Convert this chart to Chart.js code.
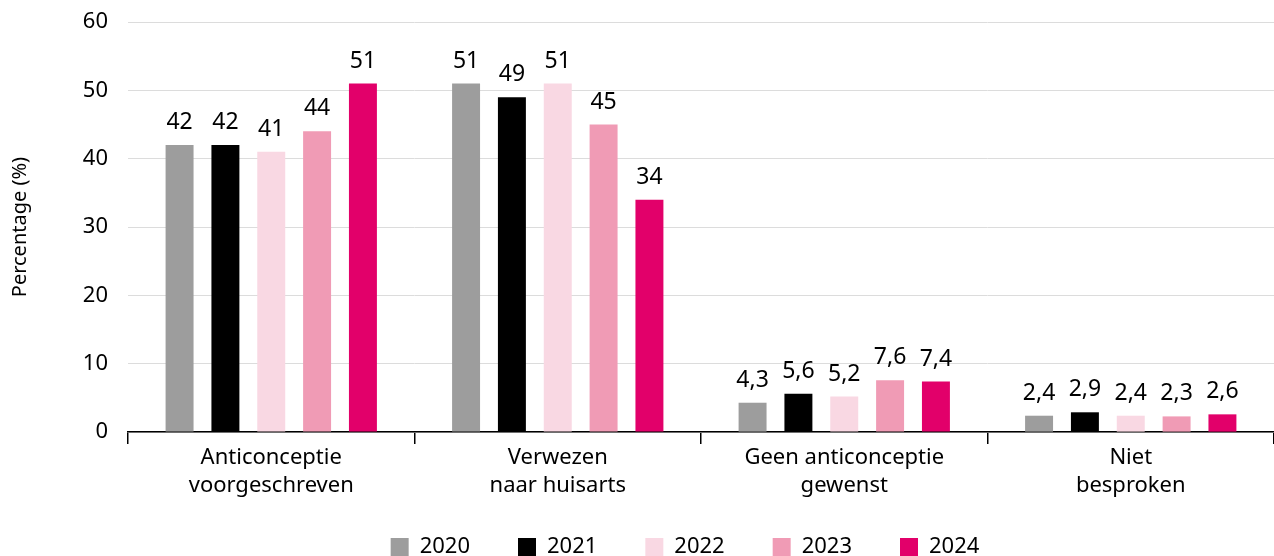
<!DOCTYPE html>
<html>
<head>
<meta charset="utf-8">
<script src="https://cdn.jsdelivr.net/npm/chart.js@4/dist/chart.umd.min.js"></script>
<style>
  html, body { margin: 0; padding: 0; background: #fff; }
  #wrap { width: 1274px; height: 556px; }
</style>
</head>
<body>
<div id="wrap"><canvas id="chart"></canvas></div>
<script>
var categories = [
  ["Anticonceptie", "voorgeschreven"],
  ["Verwezen", "naar huisarts"],
  ["Geen anticonceptie", "gewenst"],
  ["Niet", "besproken"]
];
var years = ["2020", "2021", "2022", "2023", "2024"];
var values2020 = [42, 51, 4.3, 2.4];
var values2021 = [42, 49, 5.6, 2.9];
var values2022 = [41, 51, 5.2, 2.4];
var values2023 = [44, 45, 7.6, 2.3];
var values2024 = [51, 34, 7.4, 2.6];
var colors = ["#9d9d9d", "#000000", "#f9d8e3", "#f09bb5", "#e2006a"];

var allValues = [values2020, values2021, values2022, values2023, values2024];
var fontFamily = "'Noto Sans', 'Open Sans', sans-serif";

// draws the value above each bar, comma as decimal sign
var valueLabels = {
  id: "valueLabels",
  afterDatasetsDraw: function(chart) {
    var ctx = chart.ctx;
    ctx.save();
    ctx.font = "23px " + fontFamily;
    ctx.fillStyle = "#000";
    ctx.textAlign = "center";
    ctx.textBaseline = "alphabetic";
    chart.data.datasets.forEach(function(ds, i) {
      chart.getDatasetMeta(i).data.forEach(function(bar, j) {
        var txt = String(ds.data[j]).replace(".", ",");
        ctx.fillText(txt, bar.x, bar.y - 16);
      });
    });
    ctx.restore();
  }
};

// legend sits a bit higher and more to the left than chart.js puts it
var legendNudge = {
  id: "legendNudge",
  afterLayout: function(chart) {
    var lg = chart.legend;
    lg.top -= 12; lg.bottom -= 12;
    lg.left -= 16; lg.right -= 16;
  }
};

var datasets = [];
for (var i = 0; i < years.length; i++) {
  datasets.push({
    label: years[i],
    data: allValues[i],
    backgroundColor: colors[i],
    categoryPercentage: 0.8,
    barPercentage: 0.61
  });
}

Chart.defaults.font.family = fontFamily;
Chart.defaults.color = "#000";

new Chart(document.getElementById("chart").getContext("2d"), {
  type: "bar",
  data: { labels: categories, datasets: datasets },
  plugins: [valueLabels, legendNudge],
  options: {
    responsive: true,
    maintainAspectRatio: false,
    animation: false,
    layout: { padding: { top: 22, right: 0, left: 0, bottom: -24 } },
    plugins: {
      legend: {
        position: "bottom",
        fullSize: false,
        labels: {
          boxWidth: 18,
          boxHeight: 18,
          padding: 48,
          font: { size: 22 },
          color: "#000"
        }
      },
      tooltip: { enabled: false }
    },
    scales: {
      x: {
        border: { color: "#000", width: 1.5 },
        grid: {
          offset: true,
          drawOnChartArea: false,
          drawTicks: true,
          tickLength: 12,
          color: "#000",
          lineWidth: 1.5
        },
        ticks: { font: { size: 22, lineHeight: 1.27 }, color: "#000", padding: 0 }
      },
      y: {
        min: 0,
        max: 60,
        border: { display: false },
        grid: { color: "#dcdcdc", drawTicks: true, tickLength: 20, tickColor: "rgba(0,0,0,0)" },
        ticks: { stepSize: 10, font: { size: 22 }, color: "#000", padding: 0 },
        title: {
          display: true,
          text: "Percentage (%)",
          font: { size: 20 },
          color: "#000",
          padding: { top: 8, bottom: 10 }
        },
        afterFit: function(scale) { scale.width = 128; }
      }
    }
  }
});
</script>
</body>
</html>
